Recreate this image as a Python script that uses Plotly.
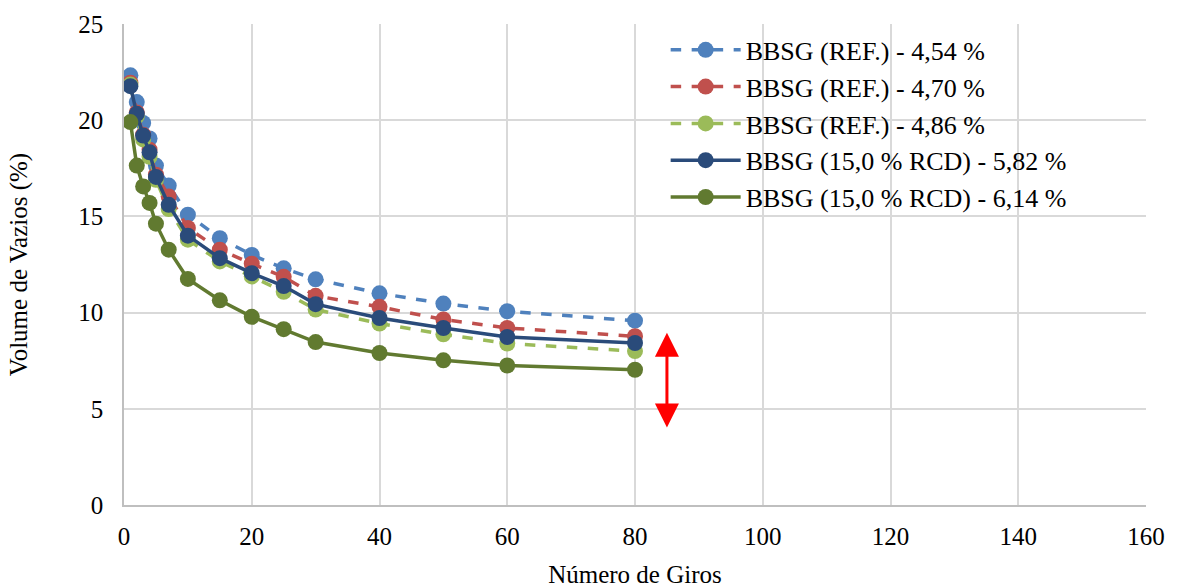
import plotly.graph_objects as go

giros = [1, 2, 3, 4, 5, 7, 10, 15, 20, 25, 30, 40, 50, 60, 80]

ref_454 = [22.33, 20.94, 19.86, 19.05, 17.64, 16.60, 15.09, 13.87, 13.00, 12.30, 11.73, 11.00, 10.47, 10.07, 9.58]
ref_470 = [21.95, 20.40, 19.25, 18.47, 17.17, 16.04, 14.40, 13.27, 12.54, 11.86, 10.87, 10.30, 9.64, 9.20, 8.77]
ref_486 = [21.85, 20.20, 19.00, 18.10, 16.90, 15.38, 13.79, 12.66, 11.88, 11.08, 10.16, 9.43, 8.87, 8.39, 8.00]
rcd_582 = [21.77, 20.33, 19.20, 18.33, 17.05, 15.60, 14.00, 12.83, 12.05, 11.38, 10.44, 9.72, 9.20, 8.73, 8.42]
rcd_614 = [19.90, 17.64, 16.56, 15.70, 14.62, 13.27, 11.75, 10.64, 9.78, 9.14, 8.47, 7.90, 7.52, 7.25, 7.03]

series_names = [
    "BBSG (REF.) - 4,54 %",
    "BBSG (REF.) - 4,70 %",
    "BBSG (REF.) - 4,86 %",
    "BBSG (15,0 % RCD) - 5,82 %",
    "BBSG (15,0 % RCD) - 6,14 %",
]
series_values = [ref_454, ref_470, ref_486, rcd_582, rcd_614]
series_colors = ["#4F81BD", "#C0504D", "#9BBB59", "#2A4B7A", "#617A30"]
series_dash = ["dash", "dash", "dash", "solid", "solid"]

x_ticks = [0, 20, 40, 60, 80, 100, 120, 140, 160]
y_ticks = [0, 5, 10, 15, 20, 25]

# double-headed arrow (x position, bottom, top)
arrow_x = 85
arrow_bottom = 3.95
arrow_top = 8.95

FONT = "Liberation Serif"

fig = go.Figure()
for name, vals, col, dash in zip(series_names, series_values, series_colors, series_dash):
    fig.add_trace(go.Scatter(
        x=giros, y=vals, name=name, mode="lines+markers",
        line=dict(color=col, width=3.5, dash=dash),
        marker=dict(color=col, size=16, symbol="circle"),
    ))

fig.add_annotation(
    x=arrow_x, y=arrow_top, ax=arrow_x, ay=arrow_bottom,
    xref="x", yref="y", axref="x", ayref="y",
    showarrow=True, arrowhead=2, arrowside="end+start",
    arrowsize=1.6, arrowwidth=3, arrowcolor="#FF0000", text="",
    standoff=0, startstandoff=0,
)

fig.update_layout(
    width=1179, height=588,
    margin=dict(l=124, r=33, t=24, b=83),
    paper_bgcolor="white", plot_bgcolor="white",
    font=dict(family=FONT, size=25, color="black"),
    showlegend=True,
    legend=dict(
        x=0.530, y=0.995, xanchor="left", yanchor="top",
        bgcolor="rgba(0,0,0,0)", font=dict(family=FONT, size=26),
        tracegroupgap=0, itemwidth=70,
    ),
    xaxis=dict(
        range=[0, 160], tickvals=x_ticks, showgrid=True, automargin=False,
        gridcolor="#D9D9D9", gridwidth=1.5,
        showline=True, linecolor="#BFBFBF", linewidth=1.5,
        zeroline=False, ticks="", ticklabelstandoff=8, tickfont=dict(size=25),
        title=dict(text="Número de Giros", font=dict(family=FONT, size=25), standoff=18),
    ),
    yaxis=dict(
        range=[0, 25], tickvals=y_ticks, showgrid=True, automargin=False,
        gridcolor="#D9D9D9", gridwidth=1.5,
        showline=True, linecolor="#BFBFBF", linewidth=1.5,
        zeroline=False, ticks="", ticklabelstandoff=14, tickfont=dict(size=25),
        title=dict(text="Volume de Vazios (%)", font=dict(family=FONT, size=25), standoff=44),
    ),
)

fig.write_html("out.html")
